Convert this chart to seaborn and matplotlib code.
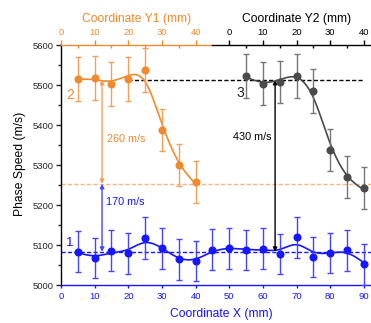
import numpy as np
import pandas as pd
import seaborn as sns
import matplotlib
matplotlib.use("Agg")
import matplotlib.pyplot as plt
from matplotlib.ticker import MultipleLocator, FixedLocator

# ---- data -------------------------------------------------------------
# line 1: scan along X
x_pos = [5, 10, 15, 20, 25, 30, 35, 40, 45, 50, 55, 60, 65, 70, 75, 80, 85, 90]
speed_1 = [5083, 5068, 5086, 5079, 5117, 5092, 5064, 5061, 5088,
           5092, 5087, 5091, 5077, 5119, 5070, 5080, 5087, 5052]
err_1 = [51, 50, 51, 52, 52, 51, 51, 50, 51, 51, 50, 51, 50, 52, 51, 51, 51, 51]

# line 2: scan along Y1
y1_pos = [5, 10, 15, 20, 25, 30, 35, 40]
speed_2 = [5514, 5518, 5502, 5516, 5537, 5388, 5300, 5258]
err_2 = [55, 55, 55, 55, 55, 53, 52, 52]

# line 3: scan along Y2
y2_pos = [5, 10, 15, 20, 25, 30, 35, 40]
speed_3 = [5522, 5503, 5508, 5523, 5486, 5337, 5270, 5243]
err_3 = [55, 54, 52, 55, 55, 53, 53, 52]

# reference speed levels and differences between them (m/s)
level_1 = 5083
diff_1_2 = 170
diff_1_3 = 430
diff_2_3 = diff_1_3 - diff_1_2

x_ticks = [0, 10, 20, 30, 40, 50, 60, 70, 80, 90]
y1_ticks = [0, 10, 20, 30, 40]
y2_ticks = [0, 10, 20, 30, 40]
speed_ticks = [5000, 5100, 5200, 5300, 5400, 5500, 5600]

BLUE = "#1616ff"
BLUE_E = "#4646ff"
ORANGE = "#f08a2e"
ORANGE_E = "#f3a05a"
ORANGE_L = "#f6b584"
GRAY = "#4a4a4a"
GRAY_E = "#767676"


def smooth_curve(x, y, lam, step=0.25):
    """Penalised least-squares smoothing (second differences) on a fine grid."""
    x = np.asarray(x, float)
    y = np.asarray(y, float)
    grid = np.arange(x[0], x[-1] + step / 2, step)
    n = len(grid)
    idx = np.round((x - x[0]) / step).astype(int)
    w = np.zeros(n)
    target = np.zeros(n)
    w[idx] = 1.0
    target[idx] = y
    d = np.diff(np.eye(n), 2, axis=0)
    a = np.diag(w) + (lam / step ** 3) * d.T @ d
    z = np.linalg.solve(a, w * target)
    return grid, z


sns.set_style("ticks")
plt.rcParams["font.family"] = ["Liberation Sans", "DejaVu Sans"]
plt.rcParams["axes.linewidth"] = 1.0

fig = plt.figure(figsize=(3.71, 3.23), dpi=100)
ax = fig.add_axes([0.1644, 0.1176, 0.8348, 0.743])
ax1 = ax.twiny()
ax2 = ax.twiny()

# ---- smooth curves ----------------------------------------------------
gx, gz = smooth_curve(x_pos, speed_1, 12.0)
sns.lineplot(x=gx, y=gz, ax=ax, color=BLUE, lw=1.2, sort=False,
             estimator=None, zorder=2)
gx, gz = smooth_curve(y1_pos, speed_2, 12.0)
sns.lineplot(x=gx, y=gz, ax=ax1, color=ORANGE, lw=1.2, sort=False,
             estimator=None, zorder=2)
gx, gz = smooth_curve(y2_pos, speed_3, 12.0)
sns.lineplot(x=gx, y=gz, ax=ax2, color=GRAY, lw=1.2, sort=False,
             estimator=None, zorder=2)

# ---- points with error bars ------------------------------------------
ax.errorbar(x_pos, speed_1, yerr=err_1, fmt="o", ms=4.8, color=BLUE,
            ecolor=BLUE_E, elinewidth=1.0, capsize=2.0, capthick=1.0, zorder=3)
ax1.errorbar(y1_pos, speed_2, yerr=err_2, fmt="o", ms=4.8, color=ORANGE,
             ecolor=ORANGE_E, elinewidth=1.0, capsize=2.0, capthick=1.0, zorder=3)
ax2.errorbar(y2_pos, speed_3, yerr=err_3, fmt="o", ms=4.8, color=GRAY,
             ecolor=GRAY_E, elinewidth=1.0, capsize=2.0, capthick=1.0, zorder=3)

# ---- reference levels -------------------------------------------------
level_2 = level_1 + diff_1_2
level_3 = level_1 + diff_1_3
ax.axhline(level_1, color=BLUE, lw=1.0, ls=(0, (3, 1.6)), zorder=1)
ax.axhline(level_2, color=ORANGE_L, lw=1.0, ls=(0, (3, 1.6)), zorder=1)
ax.hlines(level_3, 20, 90, color="black", lw=1.0, ls=(0, (3, 1.6)), zorder=1)

arrow_kw = dict(arrowstyle="<|-|>", mutation_scale=6, shrinkA=0, shrinkB=0, lw=1.0)
ax.annotate("", xy=(12.2, level_3), xytext=(12.2, level_2),
            arrowprops=dict(color=ORANGE_E, **arrow_kw), zorder=4)
ax.annotate("", xy=(12.2, level_2), xytext=(12.2, level_1),
            arrowprops=dict(color=BLUE_E, **arrow_kw), zorder=4)
ax.annotate("", xy=(63.6, level_3), xytext=(63.6, level_1),
            arrowprops=dict(color="black", **arrow_kw), zorder=4)

ax.text(13.6, 5366, f"{diff_2_3} m/s", color=ORANGE, fontsize=7.8,
        ha="left", va="center")
ax.text(13.3, 5207, f"{diff_1_2} m/s", color=BLUE, fontsize=7.8,
        ha="left", va="center")
ax.text(62.4, 5371, f"{diff_1_3} m/s", color="black", fontsize=7.8,
        ha="right", va="center")

ax.text(2.7, 5106, "1", color=BLUE, fontsize=9.5, ha="center", va="center")
ax.text(2.8, 5476, "2", color=ORANGE, fontsize=10, ha="center", va="center")
ax.text(53.2, 5480, "3", color="#222222", fontsize=10, ha="center", va="center")

# ---- axes -------------------------------------------------------------
ax.set_xlim(0, 92)
ax1.set_xlim(0, 92)
ax2.set_xlim(-50, 42)
ax.set_ylim(5000, 5600)

ax.set_xticks(x_ticks)
ax.set_yticks(speed_ticks)
ax.yaxis.set_minor_locator(MultipleLocator(50))
ax.tick_params(axis="x", which="major", direction="out", length=2.5,
               width=1.0, color=BLUE, labelcolor=BLUE, labelsize=6.8, pad=2.5)
ax.tick_params(axis="y", which="major", direction="out", length=3.5,
               width=1.0, labelsize=6.8, pad=2.0)
ax.tick_params(axis="y", which="minor", direction="out", length=2.0, width=1.0)
for side in ("top", "right"):
    ax.spines[side].set_visible(False)
ax.spines["bottom"].set_color(BLUE)
ax.spines["left"].set_color("black")

ax.set_xlabel("Coordinate X (mm)", color=BLUE, fontsize=8.7)
ax.xaxis.set_label_coords(0.517, -0.094)
ax.set_ylabel("Phase Speed (m/s)", color="black", fontsize=8.7)
ax.yaxis.set_label_coords(-0.112, 0.505)

for twin, color, lo, hi, ticks in ((ax1, ORANGE, 0, 45, y1_ticks),
                                   (ax2, "black", -5, 42, y2_ticks)):
    for side in ("left", "right", "bottom"):
        twin.spines[side].set_visible(False)
    twin.spines["top"].set_color(color)
    twin.spines["top"].set_bounds(lo, hi)
    twin.set_xticks(ticks)
    twin.xaxis.set_minor_locator(FixedLocator([t + 5 for t in ticks[:-1]]))
    twin.tick_params(axis="x", which="major", direction="out", length=3.5,
                     width=1.0, color=color, labelcolor=color,
                     labelsize=6.8, pad=2.0)
    twin.tick_params(axis="x", which="minor", direction="in", length=2.0,
                     width=1.0, color=color)
    twin.set_ylabel("")

ax1.set_xlabel("Coordinate Y1 (mm)", color=ORANGE, fontsize=8.7)
ax1.xaxis.set_label_coords(0.245, 1.095)
ax2.set_xlabel("Coordinate Y2 (mm)", color="black", fontsize=8.7)
ax2.xaxis.set_label_coords(0.762, 1.095)

fig.savefig("out.png", dpi=100)
